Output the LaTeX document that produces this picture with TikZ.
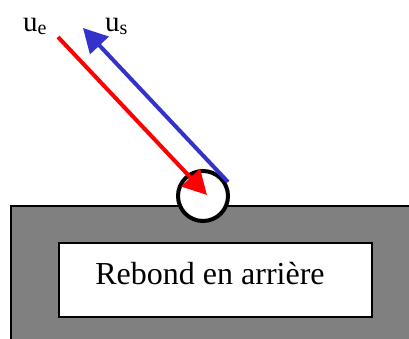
\documentclass[tikz,border=0pt]{standalone}
\usepackage{fontspec}
\setmainfont{Liberation Serif}
\usetikzlibrary{arrows.meta}
\definecolor{arrred}{RGB}{255,0,0}
\definecolor{arrblue}{RGB}{51,51,204}
\definecolor{wallgray}{RGB}{128,128,128}
\tikzset{
  vec/.style={line width=4pt,-{Triangle[length=24pt,width=25pt]}},
  lbl/.style={inner sep=0pt,anchor=base west,font=\fontsize{29}{29}\selectfont},
}
\newcommand{\subl}[1]{\raisebox{-3pt}{\fontsize{20}{20}\selectfont #1}}
\begin{document}
\begin{tikzpicture}[x=1pt,y=-1pt]
\useasboundingbox (0,0) rectangle (409,338);
% wall
\path[fill=wallgray,draw=black,line width=1.3pt] (11,206) rectangle (412,341);
\node[draw=black,fill=white,line width=1.3pt,minimum width=313pt,minimum height=74pt,inner sep=0pt] (box) at (215.5,280) {};
\node[inner sep=0pt,anchor=base,font=\fontsize{32}{32}\selectfont] (txt) at (210,284) {Rebond en arrière};
% ball
\node[circle,draw=black,fill=white,line width=4pt,minimum size=50pt,inner sep=0pt] (ball) at (203,196) {};
% vectors
\coordinate (rs) at (58,37);
\coordinate (rt) at (207,195);
\coordinate (bs) at (228,182);
\coordinate (bt) at (83,28);
\draw[vec,arrblue] (bs) -- (bt);
\draw[vec,arrred] (rs) -- (rt);
% labels
\node[lbl] (ue) at (23,31) {u\subl{e}};
\node[lbl] (us) at (105,31) {u\subl{s}};
\end{tikzpicture}
\end{document}
